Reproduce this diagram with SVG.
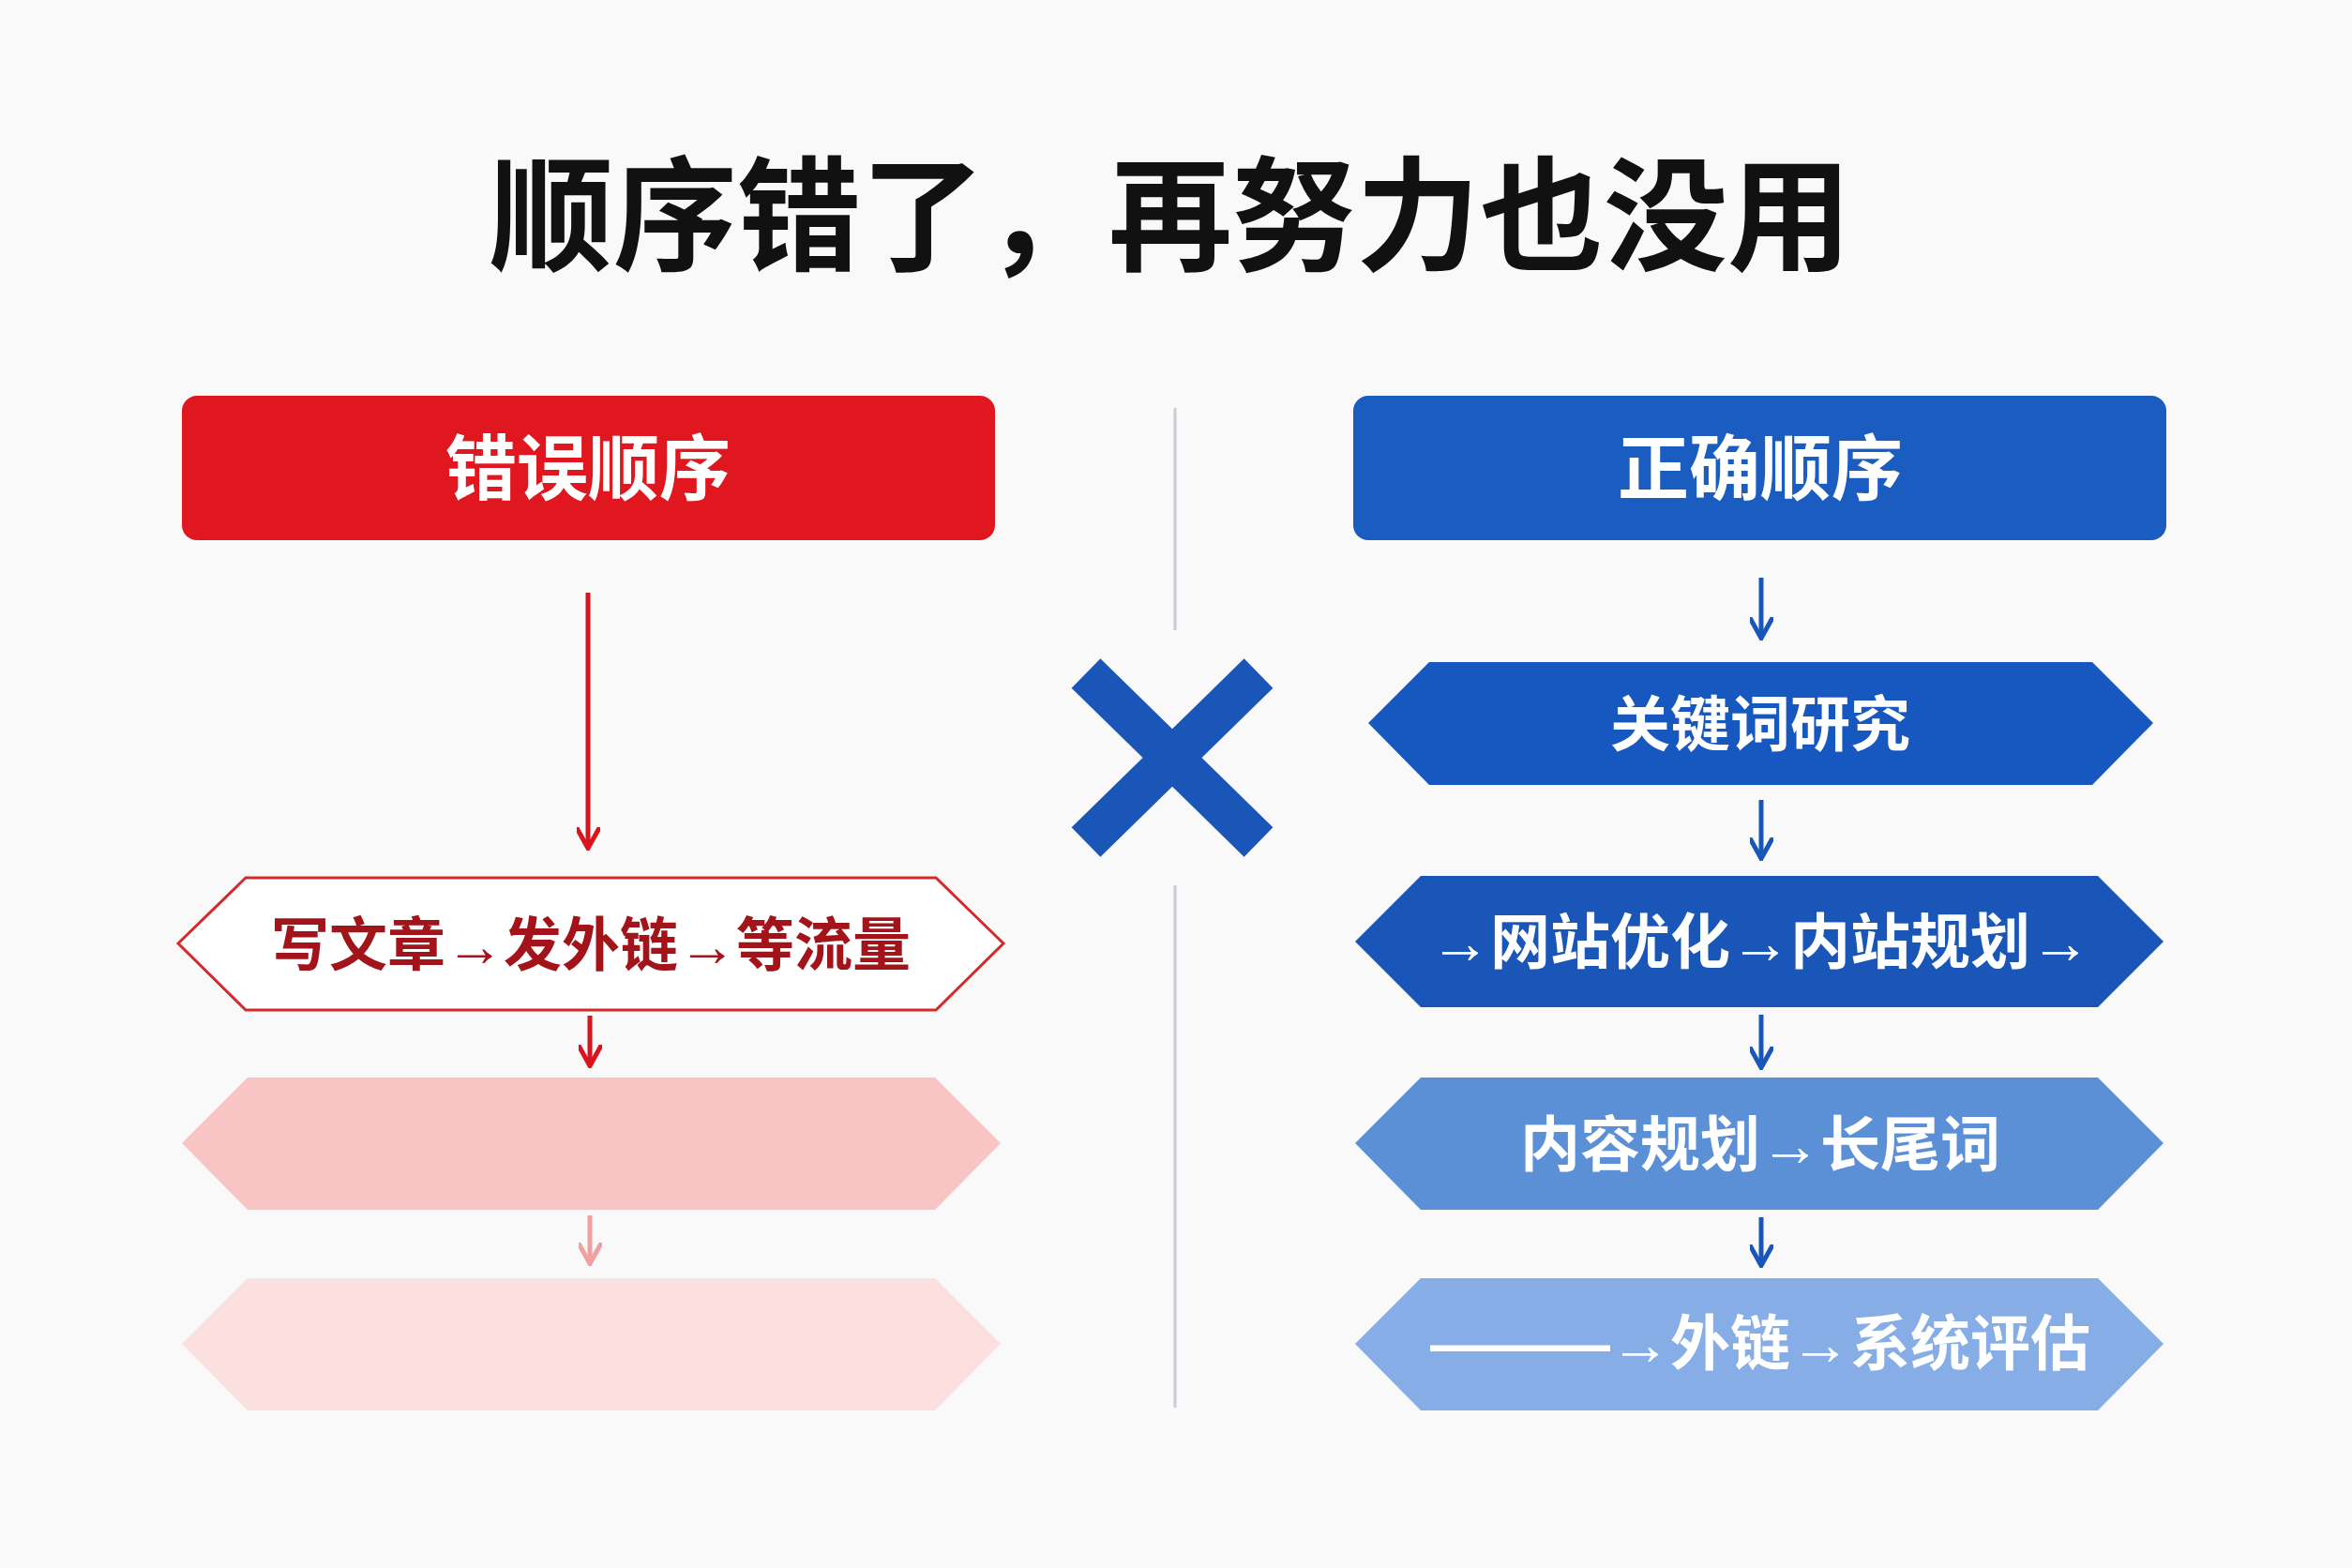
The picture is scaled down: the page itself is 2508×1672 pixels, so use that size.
<svg xmlns="http://www.w3.org/2000/svg" width="2508" height="1672" viewBox="0 0 2508 1672">
<defs>
<style>
text{font-family:"Liberation Sans","Noto Sans CJK SC",sans-serif;font-weight:bold;text-anchor:middle;dominant-baseline:central}
.w{fill:#fff;font-size:64px}
.h{fill:#fff;font-size:76px}
</style>
<marker id="ar" viewBox="0 0 10 10" refX="9" refY="5" markerWidth="5" markerHeight="5" orient="auto"><path d="M0,0L10,5L0,10Z" fill="context-stroke"/></marker>
<marker id="av" viewBox="0 0 10 10" refX="8" refY="5" markerWidth="5" markerHeight="5" orient="auto"><path d="M0,0L9,5L0,10" fill="none" stroke="context-stroke" stroke-width="2"/></marker>
</defs>
<rect width="2508" height="1672" fill="#f9f9fa"/>
<text x="1248" y="232" style="font-size:132px;fill:#111">顺序错了，再努力也没用</text>
<g id="divider" stroke="#c8ccd4" stroke-width="3"><line x1="1253" y1="435" x2="1253" y2="672"/><line x1="1253" y1="944" x2="1253" y2="1501"/></g>
<g id="cross" stroke="#1a56b8" stroke-width="44"><line x1="1158" y1="718" x2="1342" y2="898"/><line x1="1342" y1="718" x2="1158" y2="898"/></g>
<g id="wrongHeader"><rect x="194" y="422" width="867" height="154" rx="16" fill="#e0171f"/><text class="h" x="627" y="500">错误顺序</text></g>
<g id="rightHeader"><rect x="1443" y="422" width="867" height="154" rx="16" fill="#1a5cc0"/><text class="h" x="1877" y="500">正确顺序</text></g>
<g id="w1"><polygon points="262,936 998,936 1070,1006 998,1077 262,1077 190,1006" fill="#fff" stroke="#d42a2a" stroke-width="3"/><text x="630" y="1008" style="font-size:62px;fill:#a3141a">写文章→发外链→等流量</text></g>
<g id="w2"><polygon points="264,1149 997,1149 1067,1219 997,1290 264,1290 194,1219" fill="#f8c4c4"/></g>
<g id="w3"><polygon points="264,1363 997,1363 1067,1433 997,1504 264,1504 194,1433" fill="#fce0e0"/></g>
<g id="b1"><polygon points="1524,706 2231,706 2296,771 2231,837 1524,837 1459,771" fill="#1658c0"/><text class="w" x="1877" y="773">关键词研究</text></g>
<g id="b2"><polygon points="1515,934 2237,934 2307,1004 2237,1074 1515,1074 1445,1004" fill="#1a56b8"/><text class="w" x="1877" y="1005">→网站优化→内站规划→</text></g>
<g id="b3"><polygon points="1515,1149 2237,1149 2307,1219 2237,1290 1515,1290 1445,1219" fill="#5b8fd6"/><text class="w" x="1877" y="1221">内容规划→长尾词</text></g>
<g id="b4"><polygon points="1515,1363 2237,1363 2307,1433 2237,1504 1515,1504 1445,1433" fill="#86ade6"/><text class="w" x="1877" y="1433">———→外链→系统评估</text></g>
<g id="connectors" fill="none">
<line x1="627" y1="632" x2="627" y2="902" stroke="#d9141c" stroke-width="5" marker-end="url(#av)"/>
<line x1="629" y1="1083" x2="629" y2="1134" stroke="#d9141c" stroke-width="5" marker-end="url(#av)"/>
<line x1="629" y1="1296" x2="629" y2="1345" stroke="#f0a0a0" stroke-width="5" marker-end="url(#av)"/>
<line x1="1878" y1="616" x2="1878" y2="678" stroke="#1a56b8" stroke-width="5" marker-end="url(#av)"/>
<line x1="1878" y1="853" x2="1878" y2="913" stroke="#1a56b8" stroke-width="5" marker-end="url(#av)"/>
<line x1="1878" y1="1082" x2="1878" y2="1136" stroke="#1a56b8" stroke-width="5" marker-end="url(#av)"/>
<line x1="1878" y1="1298" x2="1878" y2="1347" stroke="#1a56b8" stroke-width="5" marker-end="url(#av)"/>
</g>
</svg>
